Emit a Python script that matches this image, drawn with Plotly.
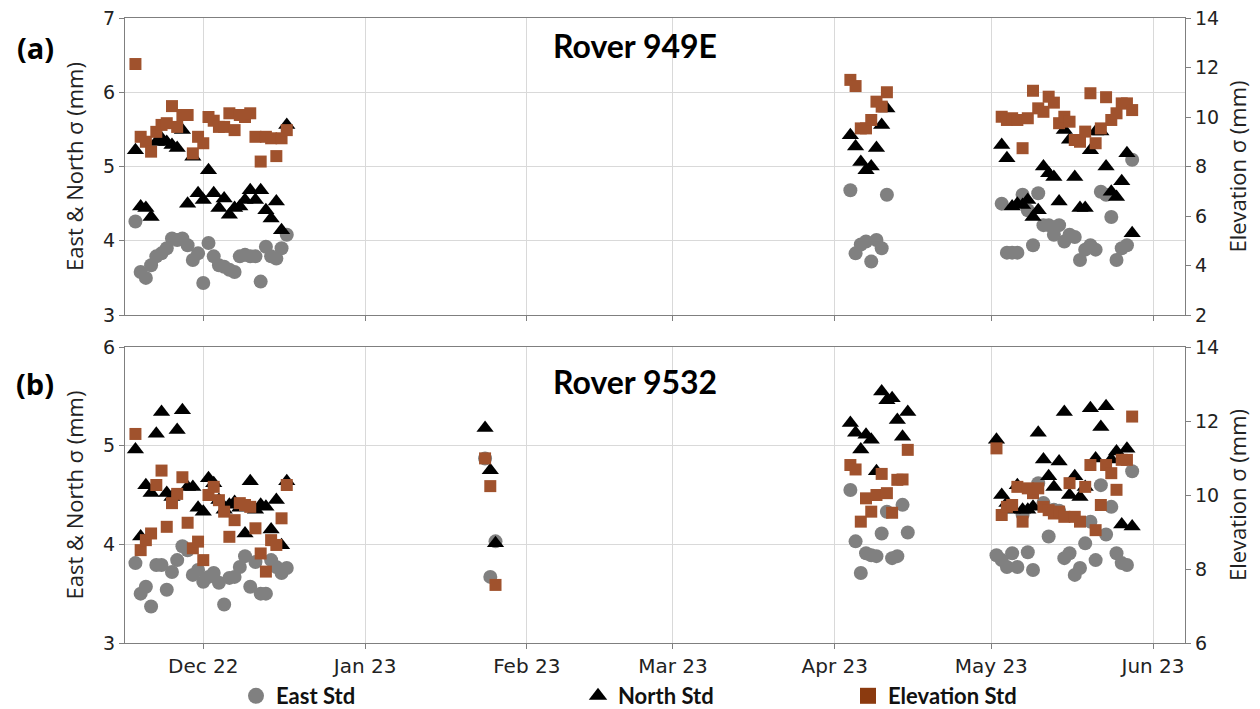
import pandas as pd
import plotly.graph_objects as go

# ---------------- data ----------------
# Panel (a) Rover 949E
A_DATES_1 = pd.date_range("2022-11-18", "2022-12-17", freq="D")
A_EAST_1 = [4.26, 3.58, 3.5, 3.67, 3.79, 3.83, 3.9, 4.03, 4.01, 4.03, 3.94, 3.74, 3.83, 3.43, 3.97,
            3.79, 3.67, 3.65, 3.61, 3.58, 3.79, 3.81, 3.79, 3.79, 3.45, 3.92, 3.79, 3.76, 3.9, 4.08]
A_NORTH_1 = [5.22, 4.46, 4.44, 4.32, 5.33, 5.38, 5.33, 5.29, 5.25, 5.49, 4.5, 5.13, 4.64, 4.55, 4.95,
             4.64, 4.44, 4.57, 4.35, 4.44, 4.46, 4.55, 4.68, 4.55, 4.68, 4.41, 4.30, 4.53, 4.14, 5.56]
A_ELEV_1 = [12.14, 9.2, 9.0, 8.6, 9.4, 9.68, 9.75, 10.44, 9.6, 10.08, 10.08, 8.53, 9.2, 8.94, 10.0,
            9.85, 9.6, 9.6, 10.15, 9.47, 10.08, 10.0, 10.15, 9.2, 8.2, 9.2, 9.14, 8.42, 9.14, 9.47]

A_DATES_2 = pd.date_range("2023-04-04", "2023-04-11", freq="D")
A_EAST_2 = [4.68, 3.83, 3.95, 3.99, 3.72, 4.01, 3.9, 4.62]
A_NORTH_2 = [5.42, 5.27, 5.06, 4.95, 5.0, 5.25, 5.56, 5.78]
A_ELEV_2 = [11.5, 11.25, 9.54, 9.54, 9.88, 10.62, 10.42, 11.0]

A_DATES_3 = pd.date_range("2023-05-03", "2023-05-28", freq="D")
A_EAST_3 = [4.5, 3.84, 3.84, 3.84, 4.62, 4.41, 3.94, 4.64, 4.21, 4.21, 4.08, 4.21, 3.99,
            4.08, 4.05, 3.74, 3.88, 3.94, 3.88, 4.66, 4.62, 4.32, 3.74, 3.9, 3.94, 5.09]
A_NORTH_3 = [5.29, 5.11, 4.46, 4.5, 4.48, 4.55, 4.32, 4.41, 5.0, 4.91, 4.86, 4.53, 5.49,
             5.36, 4.86, 4.44, 4.44, 5.22, 5.47, 5.47, 5.0, 4.66, 4.59, 4.80, 5.18, 4.1]
A_ELEV_3 = [10.01, 9.88, 9.95, 9.88, 8.74, 9.95, 11.06, 10.35, 10.21, 10.82, 10.58, 9.75, 10.01,
            9.81, 9.07, 9.0, 9.41, 10.96, 8.94, 9.54, 10.8, 9.88, 10.15, 10.55, 10.55, 10.28]

# Panel (b) Rover 9532
B_DATES_1 = pd.date_range("2022-11-18", "2022-12-17", freq="D")
B_EAST_1 = [3.81, 3.50, 3.57, 3.37, 3.79, 3.79, 3.54, 3.72, 3.84, 3.98, 3.94, 3.69, 3.74, 3.62, 3.67,
            3.71, 3.61, 3.39, 3.66, 3.67, 3.77, 3.88, 3.57, 3.82, 3.50, 3.50, 3.84, 3.77, 3.71, 3.76]
B_NORTH_1 = [4.96, 4.08, 4.60, 4.52, 5.12, 5.34, 4.52, 4.48, 5.16, 5.36, 4.58, 4.58, 4.37, 4.33, 4.67,
             4.62, 4.45, 4.35, 4.40, 4.43, 4.37, 4.11, 4.64, 4.35, 4.40, 4.38, 4.15, 4.45, 3.99, 4.64]
B_ELEV_1 = [11.65, 8.51, 8.78, 8.96, 10.27, 10.66, 9.14, 9.78, 10.03, 10.48, 9.25, 8.56, 8.74, 8.24, 10.0,
            10.22, 9.86, 9.55, 8.87, 9.32, 9.78, 9.73, 9.68, 9.10, 8.42, 7.93, 8.78, 8.65, 9.37, 10.27]

B_DATES_2 = pd.date_range("2023-01-24", "2023-01-26", freq="D")
B_EAST_2 = [4.87, 3.67, 4.03]
B_NORTH_2 = [5.18, 4.75, 4.01]
B_ELEV_2 = [10.99, 10.24, 7.57]

B_DATES_3 = pd.date_range("2023-04-04", "2023-04-15", freq="D")
B_EAST_3 = [4.55, 4.03, 3.71, 3.91, 3.89, 3.88, 4.11, 4.33, 3.86, 3.88, 4.40, 4.12]
B_NORTH_3 = [5.23, 5.13, 4.96, 5.11, 5.06, 4.74, 5.55, 5.46, 5.48, 5.26, 5.09, 5.34]
B_ELEV_3 = [10.81, 10.69, 9.28, 9.91, 9.55, 10.0, 10.57, 10.05, 9.52, 10.41, 10.42, 11.22]

B_DATES_4 = pd.date_range("2023-05-02", "2023-05-28", freq="D")
B_EAST_4 = [3.89, 3.84, 3.77, 3.91, 3.77, 4.30, 3.92, 3.74, 4.62, 4.42, 4.08, 4.35, 4.34, 3.86,
            3.91, 3.69, 3.76, 4.01, 4.23, 3.84, 4.60, 4.10, 4.38, 3.91, 3.81, 3.79, 4.74]
B_NORTH_4 = [5.06, 4.50, 4.42, 4.35, 4.60, 4.35, 4.35, 4.38, 5.13, 4.86, 4.69, 4.58, 4.84, 5.34,
             4.50, 4.69, 4.48, 4.58, 5.38, 4.87, 5.19, 5.40, 4.86, 4.94, 4.20, 4.97, 4.18]
B_ELEV_4 = [11.26, 9.46, 9.68, 9.73, 10.22, 9.28, 10.18, 10.05, 10.18, 9.68, 9.59, 9.50, 9.55, 9.41,
            10.32, 9.41, 9.28, 10.22, 10.81, 9.05, 9.73, 10.81, 10.59, 10.14, 10.95, 10.95, 12.12]

SERIES_NAMES = ["East Std", "North Std", "Elevation Std"]
PANEL_TITLES = ["Rover 949E", "Rover 9532"]
PANEL_LABELS = ["(a)", "(b)"]
LEFT_TITLE = "East & North σ (mm)"
RIGHT_TITLE = "Elevation σ (mm)"

# ---------------- assemble ----------------
a_dates = list(A_DATES_1) + list(A_DATES_2) + list(A_DATES_3)
a_east = A_EAST_1 + A_EAST_2 + A_EAST_3
a_north = A_NORTH_1 + A_NORTH_2 + A_NORTH_3
a_elev = A_ELEV_1 + A_ELEV_2 + A_ELEV_3

b_dates = list(B_DATES_1) + list(B_DATES_2) + list(B_DATES_3) + list(B_DATES_4)
b_east = B_EAST_1 + B_EAST_2 + B_EAST_3 + B_EAST_4
b_north = B_NORTH_1 + B_NORTH_2 + B_NORTH_3 + B_NORTH_4
b_elev = B_ELEV_1 + B_ELEV_2 + B_ELEV_3 + B_ELEV_4

GRAY = "#808080"
BLACK = "#000000"
BROWN = "#A0522D"
BROWN_LEG = "#8B3A0F"

fig = go.Figure()

def add_panel(dates, east, north, elev, xa, ya, ya2):
    fig.add_trace(go.Scatter(x=dates, y=east, mode="markers", xaxis=xa, yaxis=ya, showlegend=False,
                             marker=dict(symbol="circle", size=14, color=GRAY)))
    fig.add_trace(go.Scatter(x=dates, y=north, mode="markers", xaxis=xa, yaxis=ya, showlegend=False,
                             marker=dict(symbol="triangle-up", size=15, color=BLACK)))
    fig.add_trace(go.Scatter(x=dates, y=elev, mode="markers", xaxis=xa, yaxis=ya2, showlegend=False,
                             marker=dict(symbol="square", size=12, color=BROWN)))

add_panel(a_dates, a_east, a_north, a_elev, "x", "y", "y2")
add_panel(b_dates, b_east, b_north, b_elev, "x2", "y3", "y4")

# legend entries (three separate legends, as in the reference)
leg_symbols = ["circle", "triangle-up", "square"]
leg_colors = [GRAY, BLACK, BROWN_LEG]
for i, (nm, sym, col) in enumerate(zip(SERIES_NAMES, leg_symbols, leg_colors)):
    fig.add_trace(go.Scatter(x=[None], y=[None], mode="markers", xaxis="x2", yaxis="y3",
                             name=f"<b>{nm}</b>", legend="legend" if i == 0 else f"legend{i+1}",
                             marker=dict(symbol=sym, size=22, color=col)))

# ---------------- layout ----------------
W, H = 1260, 709
ML, MR, MT, MB = 125, 75, 18, 66
PW, PH = W - ML - MR, H - MT - MB

def px_x(p):
    return (p - ML) / PW

def px_y(p):
    return (H - MB - p) / PH

top_dom = [px_y(315), 1.0]
bot_dom = [0.0, px_y(347)]

TICK_FONT = dict(family="DejaVu Sans", size=19, color="#222222")
XTICK_FONT = dict(family="DejaVu Sans", size=20, color="#222222")
TITLE_FONT = dict(family="Open Sans", size=22, color="#222222")
LINE = "#7f7f7f"
GRID = "#d9d9d9"
XRANGE = ["2022-11-16", "2023-06-07 03:00"]

xcommon = dict(type="date", range=XRANGE, dtick="M1", tick0="2022-12-01", showgrid=True, gridcolor=GRID,
               gridwidth=1, showline=True, linecolor=LINE, linewidth=1.2, mirror=True, ticks="outside",
               ticklen=5, tickcolor=LINE, zeroline=False, automargin=False)
ycommon = dict(showline=True, linecolor=LINE, linewidth=1.2, ticks="outside", ticklen=5, tickcolor=LINE,
               zeroline=False, tickfont=TICK_FONT, title_font=TITLE_FONT, automargin=False)

fig.update_layout(
    width=W, height=H,
    margin=dict(l=ML, r=MR, t=MT, b=MB, autoexpand=False),
    paper_bgcolor="white", plot_bgcolor="white",
    xaxis=dict(**xcommon, anchor="y", showticklabels=False),
    xaxis2=dict(**xcommon, anchor="y3", matches="x", tickformat="%b %y", tickfont=XTICK_FONT),
    yaxis=dict(**ycommon, domain=top_dom, anchor="x", range=[3, 7], dtick=1, showgrid=True, gridcolor=GRID,
               title=dict(text=LEFT_TITLE, standoff=13)),
    yaxis2=dict(**ycommon, overlaying="y", side="right", anchor="x", range=[2, 14], dtick=2, showgrid=False,
                title=dict(text=RIGHT_TITLE, standoff=12)),
    yaxis3=dict(**ycommon, domain=bot_dom, anchor="x2", range=[3, 6], dtick=1, showgrid=True, gridcolor=GRID,
                title=dict(text=LEFT_TITLE, standoff=13)),
    yaxis4=dict(**ycommon, overlaying="y3", side="right", anchor="x2", range=[6, 14], dtick=2, showgrid=False,
                title=dict(text=RIGHT_TITLE, standoff=12)),
)

LEG_FONT = dict(family="Lato", size=22, color="#111111")
leg_px = [236, 578, 848]
leg_y = px_y(696)
fig.update_layout(
    legend=dict(x=px_x(leg_px[0]), y=leg_y, xanchor="left", yanchor="middle", orientation="h",
                font=LEG_FONT, bgcolor="rgba(0,0,0,0)", itemsizing="trace"),
    legend2=dict(x=px_x(leg_px[1]), y=leg_y, xanchor="left", yanchor="middle", orientation="h",
                 font=LEG_FONT, bgcolor="rgba(0,0,0,0)", itemsizing="trace"),
    legend3=dict(x=px_x(leg_px[2]), y=leg_y, xanchor="left", yanchor="middle", orientation="h",
                 font=LEG_FONT, bgcolor="rgba(0,0,0,0)", itemsizing="trace"),
)

# panel titles and labels
for title, label, ypx in zip(PANEL_TITLES, PANEL_LABELS, [45, 381]):
    fig.add_annotation(text=f"<b>{title}</b>", xref="paper", yref="paper", x=px_x(635), y=px_y(ypx),
                       xanchor="center", yanchor="middle", showarrow=False,
                       font=dict(family="Lato", size=32, color="#000000"))
    fig.add_annotation(text=f"<b>{label}</b>", xref="paper", yref="paper", x=px_x(35), y=px_y(ypx + 2),
                       xanchor="center", yanchor="middle", showarrow=False,
                       font=dict(family="Open Sans", size=29, color="#000000"))

# remove the default page margin so the figure sits at the window's top-left corner
fig.write_html("out.html", config={"displayModeBar": False},
               post_script="document.body.style.margin='0px';document.body.style.overflow='hidden';")
